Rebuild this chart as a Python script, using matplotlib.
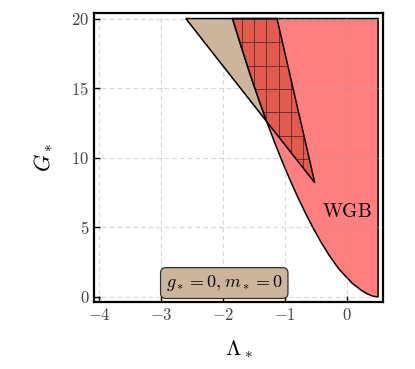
import numpy as np
import matplotlib
matplotlib.use("Agg")
import matplotlib.pyplot as plt
from matplotlib.patches import Polygon

plt.rcParams["mathtext.fontset"] = "cm"
plt.rcParams["font.family"] = "serif"
plt.rcParams["font.serif"] = ["cmr10", "DejaVu Serif"]
plt.rcParams["axes.formatter.use_mathtext"] = True

# WGB boundary curve (Lambda_*, G_*), bottom to top
wgb_G   = [0.0, 0.05, 0.1, 0.25, 0.5, 1.0, 2.0, 3.0, 4.0, 5.0, 6.0, 7.0, 8.0,
           9.0, 10.0, 11.0, 12.0, 12.6, 13.0, 14.0, 16.0, 18.0, 20.0]
wgb_lam = [0.50, 0.427, 0.391, 0.315, 0.224, 0.080, -0.130, -0.290, -0.428,
           -0.553, -0.668, -0.777, -0.879, -0.977, -1.070, -1.159, -1.245,
           -1.296, -1.328, -1.409, -1.563, -1.707, -1.847]
wgb_right = 0.5
G_top = 20.0
pinch_G = 12.6

# straight edge running from the tan corner down to the tip of the hatched wedge
tan_corner = (-2.60, 20.0)
wedge_top_right = (-1.13, 20.0)
wedge_tip = (-0.52, 8.2)

xticks = [-4, -3, -2, -1, 0]
yticks = [0, 5, 10, 15, 20]

pink = "#FF7F7F"
dark_red = "#E35A4F"
tan = "#CDB59B"

fig = plt.figure(figsize=(4.15, 3.69), dpi=100)
ax = fig.add_axes([0.2265, 0.1816, 0.6965, 0.7832])

lam = np.array(wgb_lam)
G = np.array(wgb_G)

# WGB region
pts = list(zip(lam, G)) + [(wgb_right, G_top), (wgb_right, 0.0)]
ax.add_patch(Polygon(pts, closed=True, facecolor=pink, edgecolor="black",
                     lw=1.1, zorder=2))

# tan sliver left of the curve
up = G >= pinch_G
tan_pts = [tan_corner] + list(zip(lam[up][::-1], G[up][::-1]))
ax.add_patch(Polygon(tan_pts, closed=True, facecolor=tan, edgecolor="black",
                     lw=1.1, zorder=3))

# hatched wedge
wedge_pts = [(lam[-1], G[-1]), wedge_top_right, wedge_tip] + \
    list(zip(lam[up], G[up]))
wedge = Polygon(wedge_pts, closed=True, facecolor=dark_red, edgecolor="none",
                zorder=4)
ax.add_patch(wedge)
for xv in np.arange(-1.69, -0.4, 0.195):
    ln, = ax.plot([xv, xv], [0, G_top], color="#3a1a18", lw=0.6, alpha=0.8,
                  zorder=5)
    ln.set_clip_path(wedge)
for yv in np.arange(9.9, 20.0, 1.68):
    ln, = ax.plot([-2, 0], [yv, yv], color="#3a1a18", lw=0.6, alpha=0.8,
                  zorder=5)
    ln.set_clip_path(wedge)
ax.add_patch(Polygon(wedge_pts, closed=True, facecolor="none",
                     edgecolor="black", lw=1.1, zorder=6))

ax.text(0.0, 6.1, r"$\mathrm{WGB}$", fontsize=14, ha="center", va="center",
        zorder=7)
ax.text(-1.98, 1.0, r"$g_*=0, m_*=0$", fontsize=13, ha="center", va="center",
        zorder=8,
        bbox=dict(boxstyle="round,pad=0.3,rounding_size=0.3", facecolor=tan,
                  edgecolor="#333333", lw=0.9))

ax.set_xlim(-4.08, 0.58)
ax.set_ylim(-0.36, 20.4)
ax.set_xticks(xticks)
ax.set_yticks(yticks)
ax.grid(True, ls=(0, (4, 3)), color="#9a9a9a", alpha=0.4, lw=0.8)
ax.set_axisbelow(False)
for gl in ax.get_xgridlines() + ax.get_ygridlines():
    gl.set_zorder(6.5)
ax.tick_params(direction="in", length=4, width=1.0, labelsize=12,
               labelcolor="#444444", top=False, right=False)
for s in ax.spines.values():
    s.set_linewidth(1.6)

ax.set_xlabel(r"$\Lambda_*$", fontsize=16, labelpad=11)
ax.set_ylabel(r"$G_*$", fontsize=16, labelpad=12)

fig.savefig("out.png", dpi=100)
